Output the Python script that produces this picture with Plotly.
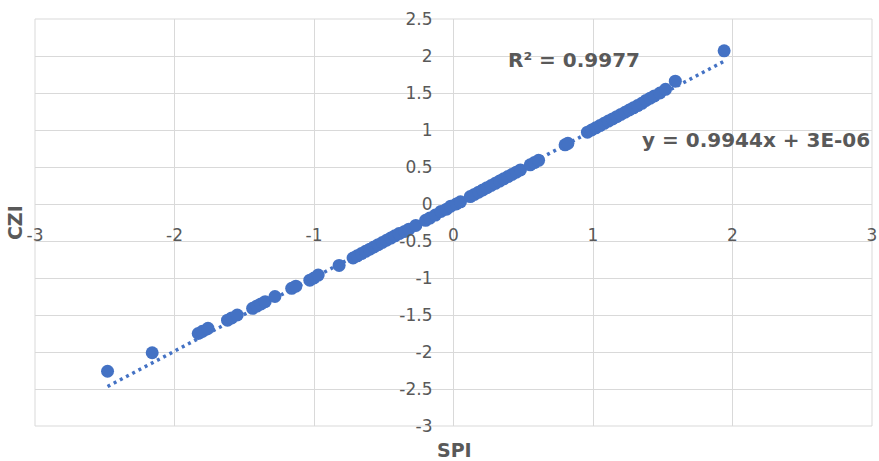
import plotly.graph_objects as go

# ---- data ----
spi = [-2.48, -2.16, -1.83, -1.80, -1.76, -1.62, -1.59, -1.55, -1.44, -1.41,
       -1.38, -1.35, -1.28, -1.16, -1.13, -1.03, -1.00, -0.97, -0.82, -0.72,
       -0.69, -0.66, -0.63, -0.60, -0.57, -0.54, -0.51, -0.48, -0.45, -0.42,
       -0.39, -0.35, -0.32, -0.27, -0.20, -0.17, -0.13, -0.09, -0.05, -0.02,
       0.02, 0.05, 0.12, 0.15, 0.18, 0.21, 0.24, 0.27, 0.30, 0.33,
       0.36, 0.39, 0.42, 0.45, 0.48, 0.55, 0.58, 0.61, 0.80, 0.82,
       0.96, 0.99, 1.02, 1.05, 1.08, 1.11, 1.14, 1.17, 1.20, 1.23,
       1.26, 1.29, 1.32, 1.35, 1.38, 1.41, 1.44, 1.48, 1.52, 1.59, 1.94]
czi = [-2.26, -2.01, -1.75, -1.72, -1.68, -1.57, -1.54, -1.50, -1.41, -1.38,
       -1.35, -1.32, -1.25, -1.14, -1.11, -1.03, -1.00, -0.96, -0.83, -0.73,
       -0.70, -0.67, -0.64, -0.61, -0.58, -0.55, -0.52, -0.49, -0.46, -0.43,
       -0.40, -0.37, -0.34, -0.29, -0.22, -0.19, -0.15, -0.10, -0.07, -0.03,
       0.00, 0.03, 0.10, 0.13, 0.16, 0.19, 0.22, 0.25, 0.28, 0.31,
       0.34, 0.37, 0.40, 0.43, 0.46, 0.53, 0.56, 0.59, 0.80, 0.82,
       0.97, 1.00, 1.03, 1.06, 1.09, 1.12, 1.15, 1.18, 1.21, 1.24,
       1.27, 1.30, 1.33, 1.36, 1.40, 1.43, 1.46, 1.50, 1.55, 1.66, 2.07]

slope = 0.9944
intercept = 3e-06
r2_label = "R² = 0.9977"
eq_label = "y = 0.9944x + 3E-06"

x_ticks = [-3, -2, -1, 0, 1, 2, 3]
x_ticktext = ["-3", "-2", "-1", "0", "1", "2", "3"]
y_ticks = [-3, -2.5, -2, -1.5, -1, -0.5, 0, 0.5, 1, 1.5, 2, 2.5]
y_ticktext = ["-3", "-2.5", "-2", "-1.5", "-1", "-0.5", "0", "0.5", "1", "1.5", "2", "2.5"]

BLUE = "#4472C4"
GRID = "#d9d9d9"
TXT = "#595959"
FONT = "DejaVu Sans"

trend_x = [min(spi), max(spi)]
trend_y = [slope * v + intercept for v in trend_x]

fig = go.Figure()
fig.add_trace(go.Scatter(x=trend_x, y=trend_y, mode="lines",
                         line=dict(color=BLUE, width=3.5, dash="3px,4px"),
                         hoverinfo="skip", showlegend=False))
fig.add_trace(go.Scatter(x=spi, y=czi, mode="markers",
                         marker=dict(color=BLUE, size=13, line=dict(width=0)),
                         showlegend=False))

xr = [-3, 3]
yr = [-3, 2.5]

fig.update_layout(
    width=879, height=461,
    margin=dict(l=35, r=7, t=19, b=35),
    paper_bgcolor="white", plot_bgcolor="white",
    font=dict(family=FONT, color=TXT, size=17),
    xaxis=dict(range=xr, tickvals=x_ticks, ticktext=x_ticktext,
               showgrid=True, gridcolor=GRID, gridwidth=1,
               zeroline=True, zerolinecolor=GRID, zerolinewidth=1,
               showline=False, ticks="", automargin=False,
               anchor="free", position=(0 - yr[0]) / (yr[1] - yr[0]),
               ticklabelstandoff=19,
               tickfont=dict(family=FONT, size=17, color=TXT)),
    yaxis=dict(range=yr, tickvals=y_ticks, ticktext=y_ticktext,
               showgrid=True, gridcolor=GRID, gridwidth=1,
               zeroline=True, zerolinecolor=GRID, zerolinewidth=1,
               showline=False, ticks="", automargin=False,
               anchor="free", position=(0 - xr[0]) / (xr[1] - xr[0]),
               ticklabelstandoff=21,
               tickfont=dict(family=FONT, size=17, color=TXT)),
    shapes=[dict(type="rect", xref="x domain", yref="y domain",
                 x0=0, x1=1, y0=0, y1=1, line=dict(color=GRID, width=1),
                 layer="below")],
    annotations=[
        dict(text="<b>" + r2_label + "</b>", xref="paper", yref="paper",
             x=0.644, y=0.899, showarrow=False, xanchor="center", yanchor="middle",
             font=dict(family=FONT, size=20, color=TXT)),
        dict(text="<b>" + eq_label + "</b>", xref="paper", yref="paper",
             x=0.862, y=0.703, showarrow=False, xanchor="center", yanchor="middle",
             font=dict(family=FONT, size=20, color=TXT)),
        dict(text="<b>SPI</b>", xref="paper", yref="paper",
             x=0.5006, y=-0.059, showarrow=False, xanchor="center", yanchor="middle",
             font=dict(family=FONT, size=19, color=TXT)),
        dict(text="<b>CZI</b>", xref="paper", yref="paper", textangle=-90,
             x=-0.0239, y=0.501, showarrow=False, xanchor="center", yanchor="middle",
             font=dict(family=FONT, size=19, color=TXT)),
    ],
)

fig.write_html("out.html")
